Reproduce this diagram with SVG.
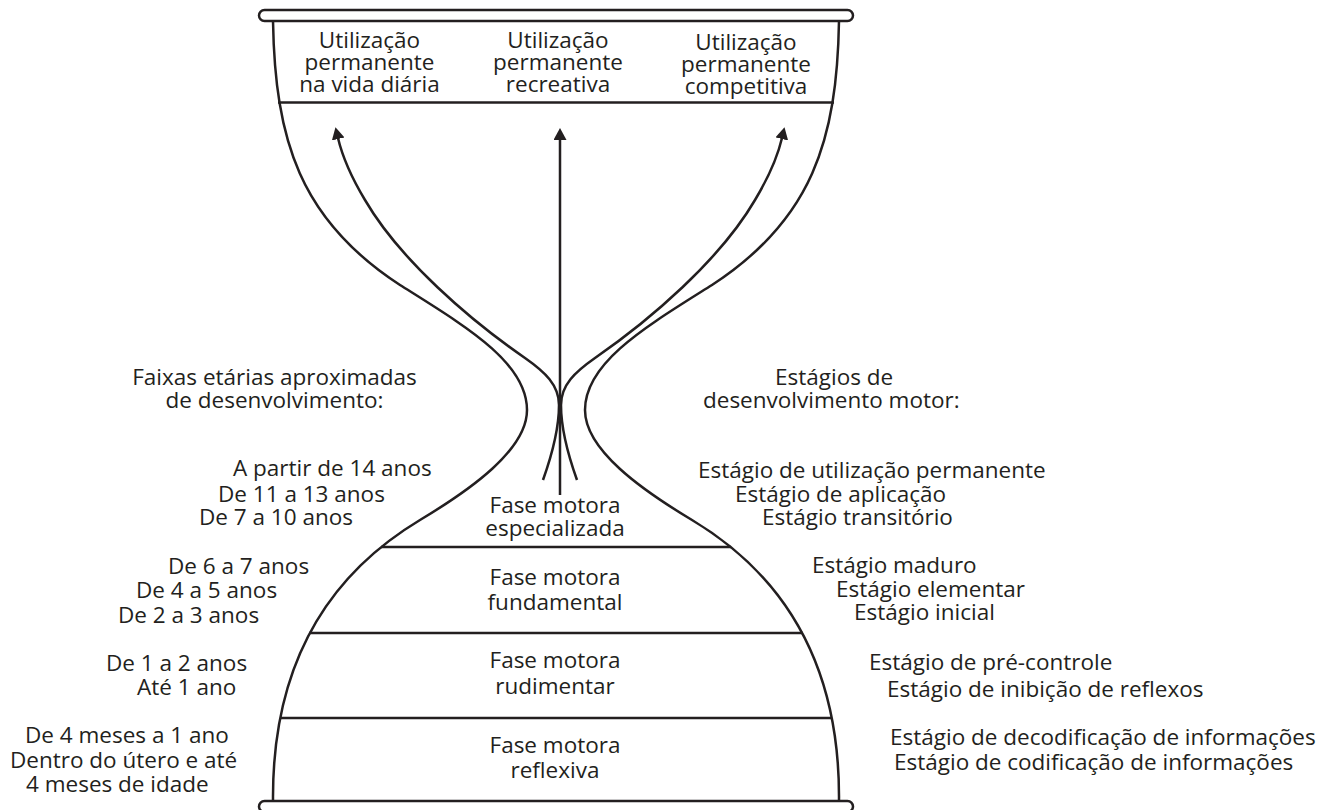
<svg xmlns="http://www.w3.org/2000/svg" width="1327" height="810" viewBox="0 0 1327 810">
<style>
.ln{fill:none;stroke:#231f20;stroke-width:2.5}
.bar{fill:#fff;stroke:#231f20;stroke-width:2.5}
.t{font-family:"Open Sans","Noto Sans",sans-serif;font-size:22.5px;fill:#231f20}
.m{text-anchor:middle}
</style>
<defs>
<marker id="ah" markerUnits="userSpaceOnUse" markerWidth="14" markerHeight="14" refX="1" refY="6.5" orient="auto">
<path d="M0,0 L12,6.5 L0,13 z" fill="#231f20"/>
</marker>
</defs>
<rect width="1327" height="810" fill="#fff"/>
<g id="hourglass">
<path class="ln" d="M 273 21 C 275 140, 300 220, 400 285 C 465 326, 527 362, 527 410 C 527 450, 470 490, 420 520 C 340 568, 272 650, 273 800"/>
<path class="ln" d="M 839 21 C 837 140, 812 220, 712 285 C 647 326, 585 362, 585 410 C 585 450, 642 490, 692 520 C 772 568, 840 650, 839 800"/>
<rect class="bar" x="259" y="10" width="594" height="11" rx="5.5"/>
<rect class="bar" x="259" y="801" width="594" height="11" rx="5.5"/>
</g>
<g id="utilizacao">
<line class="ln" x1="278" y1="102.5" x2="834" y2="102.5"/>
<text class="t m" x="369.5" y="48">Utilização</text>
<text class="t m" x="369.5" y="70">permanente</text>
<text class="t m" x="369.5" y="92">na vida diária</text>
<text class="t m" x="558" y="48">Utilização</text>
<text class="t m" x="558" y="70">permanente</text>
<text class="t m" x="558" y="92">recreativa</text>
<text class="t m" x="746" y="50">Utilização</text>
<text class="t m" x="746" y="72">permanente</text>
<text class="t m" x="746" y="94">competitiva</text>
</g>
<g id="fase-especializada">
<line class="ln" x1="381" y1="547" x2="731" y2="547"/>
<text class="t m" x="555" y="513">Fase motora</text>
<text class="t m" x="555" y="536">especializada</text>
</g>
<g id="fase-fundamental">
<line class="ln" x1="309" y1="633" x2="803" y2="633"/>
<text class="t m" x="555" y="585">Fase motora</text>
<text class="t m" x="555" y="610">fundamental</text>
</g>
<g id="fase-rudimentar">
<line class="ln" x1="280" y1="718" x2="832" y2="718"/>
<text class="t m" x="555" y="668">Fase motora</text>
<text class="t m" x="555" y="694">rudimentar</text>
</g>
<g id="fase-reflexiva">
<text class="t m" x="555" y="753">Fase motora</text>
<text class="t m" x="555" y="778">reflexiva</text>
</g>
<g id="faixas-etarias">
<text class="t m" x="274.5" y="385">Faixas etárias aproximadas</text>
<text class="t m" x="274.5" y="408">de desenvolvimento:</text>
<text class="t" x="233" y="476">A partir de 14 anos</text>
<text class="t" x="218" y="502">De 11 a 13 anos</text>
<text class="t" x="199" y="525">De 7 a 10 anos</text>
<text class="t" x="168" y="574">De 6 a 7 anos</text>
<text class="t" x="136" y="598">De 4 a 5 anos</text>
<text class="t" x="118" y="623">De 2 a 3 anos</text>
<text class="t" x="106" y="671">De 1 a 2 anos</text>
<text class="t" x="137" y="695">Até 1 ano</text>
<text class="t" x="25" y="743">De 4 meses a 1 ano</text>
<text class="t" x="10" y="768">Dentro do útero e até</text>
<text class="t" x="26" y="792">4 meses de idade</text>
</g>
<g id="estagios">
<text class="t" x="775" y="385">Estágios de</text>
<text class="t" x="703" y="408">desenvolvimento motor:</text>
<text class="t" x="698" y="478">Estágio de utilização permanente</text>
<text class="t" x="735" y="502">Estágio de aplicação</text>
<text class="t" x="762" y="525">Estágio transitório</text>
<text class="t" x="812" y="573">Estágio maduro</text>
<text class="t" x="836" y="597">Estágio elementar</text>
<text class="t" x="854" y="620">Estágio inicial</text>
<text class="t" x="869" y="670">Estágio de pré-controle</text>
<text class="t" x="887" y="697">Estágio de inibição de reflexos</text>
<text class="t" x="890" y="745">Estágio de decodificação de informações</text>
<text class="t" x="894" y="770">Estágio de codificação de informações</text>
</g>
<g id="connectors">
<path class="ln" marker-end="url(#ah)" d="M 543 480 C 553 452, 559 425, 559 405 C 559 385, 545 372, 525 358 C 470 320, 400 260, 365 200 C 350 175, 342 155, 338 138"/>
<path class="ln" marker-end="url(#ah)" d="M 560 495 L 560 139"/>
<path class="ln" marker-end="url(#ah)" d="M 577 480 C 567 452, 561 425, 561 405 C 561 385, 575 372, 595 358 C 650 320, 720 260, 755 200 C 770 175, 778 155, 782 138"/>
</g>
</svg>
